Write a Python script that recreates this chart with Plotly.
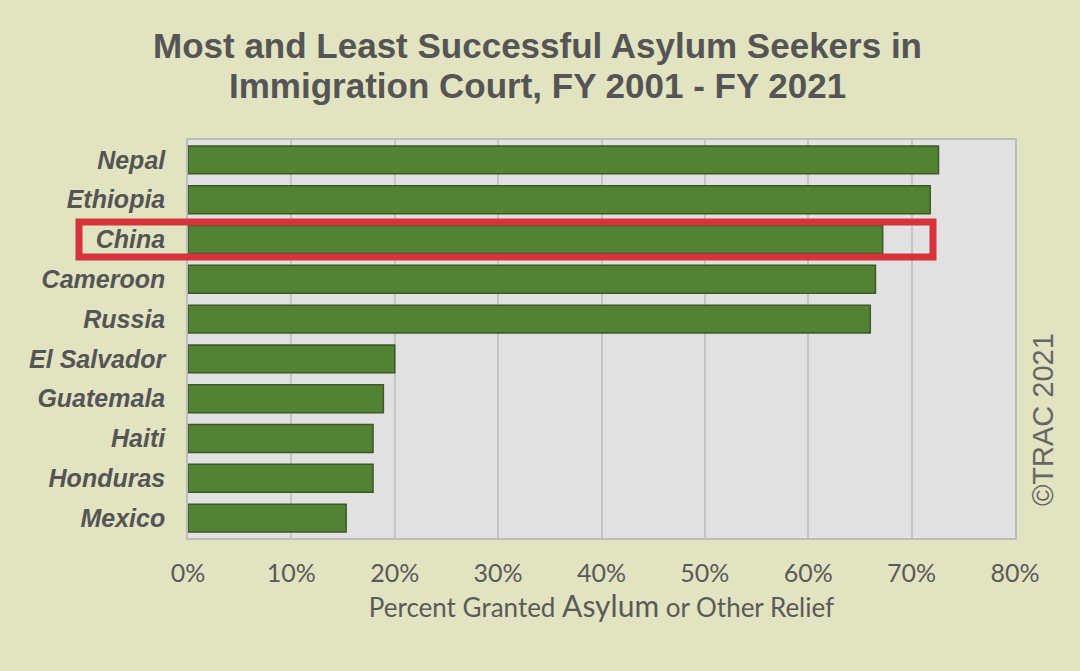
import plotly.graph_objects as go

countries = ["Nepal", "Ethiopia", "China", "Cameroon", "Russia",
             "El Salvador", "Guatemala", "Haiti", "Honduras", "Mexico"]
percent_granted = [72.6, 71.8, 67.2, 66.5, 66.0, 20.0, 18.9, 17.9, 17.9, 15.3]
tick_vals = [0, 10, 20, 30, 40, 50, 60, 70, 80]
tick_text = ["0%", "10%", "20%", "30%", "40%", "50%", "60%", "70%", "80%"]
highlight = "China"
title_lines = ["Most and Least Successful Asylum Seekers in",
               "Immigration Court, FY 2001 - FY 2021"]

BG = "#e2e3c0"
TEXT = "#555555"

fig = go.Figure()
fig.add_trace(go.Bar(
    x=percent_granted, y=countries, orientation="h",
    marker=dict(color="#548235", line=dict(color="#3b5a25", width=1.5)),
    hoverinfo="skip",
))

W, H = 1080, 671
L, R, T, B = 188, 65, 140, 133
PW, PH = W - L - R, H - T - B

fig.update_layout(
    width=W, height=H,
    paper_bgcolor=BG, plot_bgcolor="#e1e1e1",
    margin=dict(l=L, r=R, t=T, b=B, autoexpand=False),
    bargap=0.3,
    showlegend=False,
    xaxis=dict(
        range=[0, 80], tickvals=tick_vals, ticktext=tick_text,
        showgrid=True, gridcolor="#c4c4c4", gridwidth=1.5,
        zeroline=False, showline=True, linecolor="#bcbcbc", linewidth=1.5, mirror=True,
        ticks="", ticklabelstandoff=12,
        tickfont=dict(family="Lato, Open Sans, sans-serif", size=25, color="#5a5a5a"),
        title=dict(
            text="Percent Granted <span style='font-size:30px'>Asylum</span> or Other Relief",
            font=dict(family="Lato, Open Sans, sans-serif", size=26, color="#5a5a5a"),
            standoff=12,
        ),
        fixedrange=True,
    ),
    yaxis=dict(
        autorange="reversed", showgrid=False, zeroline=False,
        showline=True, linecolor="#bcbcbc", linewidth=1.5, mirror=True,
        ticks="", ticklabelstandoff=16,
        tickfont=dict(family="Liberation Sans, Arial, sans-serif", size=25, color=TEXT,
                      weight="bold", style="italic"),
        fixedrange=True,
    ),
)

# Title lines
for line, yc in zip(title_lines, [46, 86]):
    fig.add_annotation(
        text=line, xref="paper", yref="paper",
        x=(537 - L) / PW, y=(T + PH - yc) / PH,
        xanchor="center", yanchor="middle", showarrow=False,
        font=dict(family="Liberation Sans, Arial, sans-serif", size=35, color=TEXT, weight="bold"),
    )

# Highlight box around China row
idx = countries.index(highlight)
fig.add_shape(
    type="rect", xref="paper", yref="y",
    x0=(79 - L) / PW, x1=(933 - L) / PW,
    y0=idx - 0.44, y1=idx + 0.44,
    line=dict(color="#d7333d", width=7), fillcolor="rgba(0,0,0,0)", layer="above",
)

# Copyright watermark
fig.add_annotation(
    text="©TRAC 2021", textangle=-90,
    xref="paper", yref="paper",
    x=(1043 - L) / PW, y=(T + PH - 420) / PH,
    xanchor="center", yanchor="middle", showarrow=False,
    font=dict(family="Liberation Sans, Arial, sans-serif", size=29, color="#666666"),
)

fig.write_html("out.html", config={"displayModeBar": False},
               post_script="document.body.style.margin='0';")
